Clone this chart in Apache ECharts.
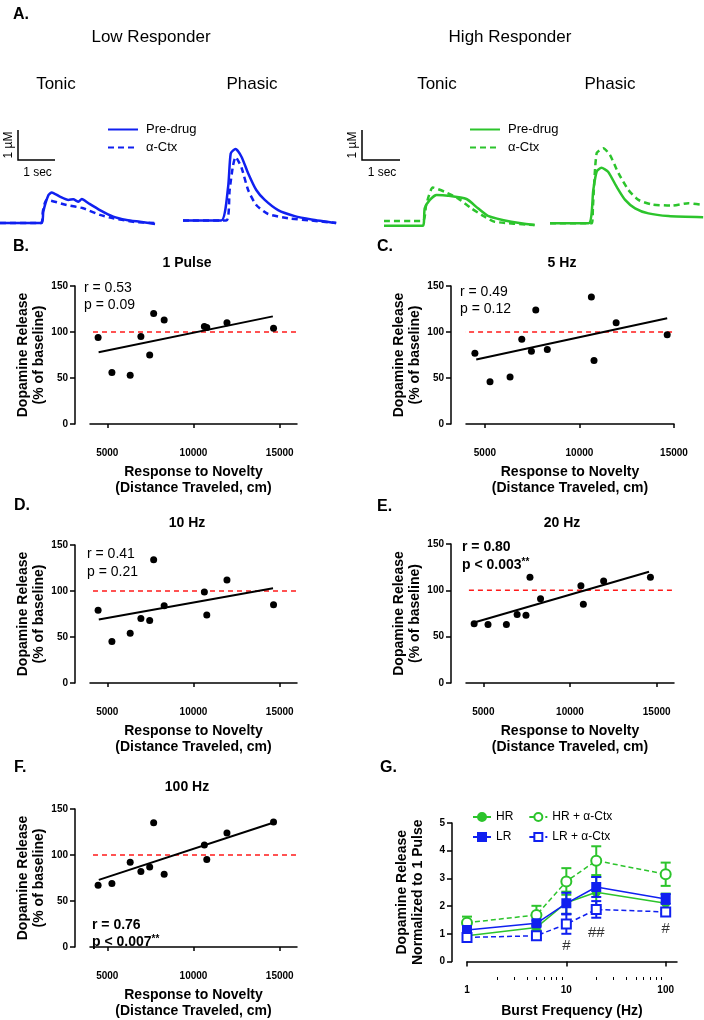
<!DOCTYPE html>
<html>
<head>
<meta charset="utf-8">
<script src="https://cdn.jsdelivr.net/npm/echarts@6/dist/echarts.min.js"></script>
<style>
  html, body { margin: 0; background: #fff; }
  #chart { width: 704px; height: 1020px; }
</style>
</head>
<body>
<div id="chart"></div>
<script>
const FONT = 'Liberation Sans, Arial, sans-serif'
const BLUE = '#1020f0'
const GREEN = '#2cc42c'
const RED = '#ff1a1a'

// A. example traces (time in s, dopamine in µM above baseline)
const lrTonicPre = [[0, 0], [1.13, 0], [1.17, 0.38], [1.31, 0.93], [1.40, 1.02], [1.62, 0.88], [1.85, 0.77], [1.98, 0.79], [2.12, 0.71], [2.21, 0.80], [2.39, 0.66], [2.70, 0.43], [3.06, 0.21], [3.42, 0.10], [3.78, 0.04], [4.19, -0.03]]
const lrTonicCtx = [[0, 0], [1.11, 0], [1.16, 0.40], [1.26, 0.77], [1.80, 0.60], [2.25, 0.49], [2.70, 0.27], [3.06, 0.16], [3.60, 0.04], [4.19, 0]]
const lrPhasicPre = [[0, 0.08], [1.03, 0.08], [1.22, 1.21], [1.29, 2.32], [1.42, 2.47], [1.58, 2.21], [1.76, 1.66], [1.98, 1.10], [2.21, 0.77], [2.57, 0.43], [3.02, 0.23], [3.47, 0.12], [4.14, 0]]
const lrPhasicCtx = [[0, 0.08], [1.17, 0.08], [1.26, 1.10], [1.35, 1.90], [1.42, 2.20], [1.58, 1.85], [1.76, 1.10], [1.98, 0.60], [2.30, 0.30], [2.84, 0.16], [3.47, 0.08], [4.14, 0]]
const hrTonicPre = [[0, -0.09], [1.05, -0.09], [1.10, 0.49], [1.24, 0.77], [1.42, 0.93], [1.73, 0.91], [2.23, 0.80], [2.54, 0.49], [2.81, 0.24], [3.44, 0.04], [4.07, -0.07]]
const hrTonicCtx = [[0, 0.07], [1.05, 0.07], [1.14, 0.60], [1.32, 1.18], [1.64, 1.04], [2.00, 0.82], [2.36, 0.49], [2.72, 0.21], [2.99, 0.04], [4.07, -0.07]]
const hrPhasicPre = [[0, -0.01], [1.04, -0.01], [1.17, 1.10], [1.26, 1.71], [1.39, 1.84], [1.57, 1.71], [1.80, 1.21], [2.03, 0.77], [2.30, 0.49], [2.66, 0.32], [3.20, 0.23], [4.14, 0.19]]
const hrPhasicCtx = [[0, -0.01], [1.13, -0.01], [1.16, 0.54], [1.26, 2.32], [1.44, 2.49], [1.62, 2.27], [1.85, 1.66], [2.12, 1.10], [2.39, 0.77], [2.75, 0.62], [3.29, 0.58], [3.74, 0.66], [4.14, 0.60]]

// B-F. novelty response (cm) and release (% of baseline) per rat
const distance = [4470, 5270, 6330, 6950, 7460, 7690, 8300, 10630, 10770, 11940, 14640]
const release1Pulse = [94, 56, 53, 95, 75, 120, 113, 106, 105, 110, 104]
const release5Hz = [77, 46, 51, 92, 79, 124, 81, 138, 69, 110, 97]
const release10Hz = [79, 45, 54, 70, 68, 134, 84, 99, 74, 112, 85]
const release20Hz = [64, 63, 63, 74, 73, 114, 91, 105, 85, 110, 114]
const release100Hz = [67, 69, 92, 82, 87, 135, 79, 111, 95, 124, 136]
const fit1Pulse = [[4500, 78], [14600, 117]]
const fit5Hz = [[4540, 70], [14640, 115]]
const fit10Hz = [[4510, 69], [14610, 103]]
const fit20Hz = [[4420, 65], [14560, 120]]
const fit100Hz = [[4510, 73], [14610, 135]]
const xTicks = [5000, 10000, 15000]

// G. burst frequency vs normalized release (mean, sem)
const freqs = [1, 5, 10, 20, 100]
const hrMean = [0.93, 1.23, 2.12, 2.50, 2.10]
const hrSem = [0.08, 0.10, 0.40, 0.55, 0.35]
const lrMean = [1.14, 1.38, 2.10, 2.69, 2.26]
const lrSem = [0.15, 0.10, 0.38, 0.36, 0.18]
const hrCtxMean = [1.40, 1.68, 2.89, 3.64, 3.15]
const hrCtxSem = [0.22, 0.33, 0.48, 0.52, 0.42]
const lrCtxMean = [0.87, 0.93, 1.35, 1.88, 1.79]
const lrCtxSem = [0.08, 0.08, 0.35, 0.30, 0.08]
const sigMarks = [[10, 0.57, '#'], [20, 1.05, '##'], [100, 1.17, '#']]
const freqTicks = [1, 10, 100]
const freqMinorTicks = [2, 3, 4, 5, 6, 7, 8, 9, 20, 30, 40, 50, 60, 70, 80, 90]

const grid = []
const xAxis = []
const yAxis = []
const series = []
const graphic = []

function txt(text, x, y, size, opts = {}) {
  graphic.push({
    type: 'text', x, y, rotation: opts.rotation || 0,
    style: {
      text, fill: '#000',
      font: (opts.bold ? 'bold ' : '') + size + 'px ' + FONT,
      align: opts.align || 'left', textAlign: opts.align || 'left',
      verticalAlign: 'middle', textVerticalAlign: 'middle',
      rich: opts.rich
    }
  })
}

// ---- A. traces ----
const traces = [
  { left: 0, width: 157, color: BLUE, pre: lrTonicPre, ctx: lrTonicCtx, tag: 'LR' },
  { left: 183, width: 154, color: BLUE, pre: lrPhasicPre, ctx: lrPhasicCtx, tag: 'LR' },
  { left: 384, width: 152, color: GREEN, pre: hrTonicPre, ctx: hrTonicCtx, tag: 'HR' },
  { left: 550, width: 154, color: GREEN, pre: hrPhasicPre, ctx: hrPhasicCtx, tag: 'HR' }
]
traces.forEach(t => {
  const gi = grid.length
  grid.push({ left: t.left, top: 130, width: t.width, height: 105 })
  xAxis.push({ gridIndex: gi, type: 'value', min: 0, max: t.width / 37, show: false })
  yAxis.push({ gridIndex: gi, type: 'value', min: -0.4, max: 3.1, show: false })
  const base = { type: 'line', xAxisIndex: gi, yAxisIndex: gi, symbol: 'none', smooth: 0.2, color: t.color }
  series.push({ ...base, name: t.tag + ' Pre-drug', data: t.pre, lineStyle: { width: 2.5, color: t.color } })
  series.push({ ...base, name: t.tag + ' α-Ctx', data: t.ctx, lineStyle: { width: 2.5, color: t.color, type: [6, 4] } })
})

// ---- B-F. scatter panels ----
const panels = [
  { left: 90, top: 286, width: 207, height: 138, xMax: 16000, values: release1Pulse, fit: fit1Pulse, refX: 3130 },
  { left: 466, top: 286, width: 208, height: 138, xMax: 15000, values: release5Hz, fit: fit5Hz, refX: 3210 },
  { left: 90, top: 545, width: 207, height: 138, xMax: 16000, values: release10Hz, fit: fit10Hz, refX: 3130 },
  { left: 466, top: 544, width: 208, height: 139, xMax: 16000, values: release20Hz, fit: fit20Hz, refX: 3130 },
  { left: 90, top: 809, width: 207, height: 139, xMax: 16000, values: release100Hz, fit: fit100Hz, refX: 3130 }
]
const axisLine = { show: true, lineStyle: { color: '#000', width: 1.5 } }
const boldName = { color: '#000', fontWeight: 'bold', fontSize: 14, lineHeight: 16, fontFamily: FONT }
const tickLabel = { color: '#000', fontWeight: 'bold', fontSize: 10, fontFamily: FONT, formatter: v => String(v) }

panels.forEach(p => {
  const gi = grid.length
  grid.push({ left: p.left, top: p.top, width: p.width, height: p.height })
  xAxis.push({
    gridIndex: gi, type: 'value', min: 4000, max: p.xMax, offset: 16,
    axisLine, splitLine: { show: false },
    axisTick: { show: true, length: 4, customValues: xTicks, lineStyle: { color: '#000', width: 1.5 } },
    axisLabel: { ...tickLabel, margin: 8, customValues: xTicks },
    name: 'Response to Novelty\n(Distance Traveled, cm)', nameLocation: 'middle', nameGap: 24,
    nameTextStyle: boldName
  })
  yAxis.push({
    gridIndex: gi, type: 'value', min: 0, max: 150, interval: 50, offset: 15,
    axisLine, splitLine: { show: false },
    axisTick: { show: true, length: 5, lineStyle: { color: '#000', width: 1.5 } },
    axisLabel: { ...tickLabel, margin: 7 },
    name: 'Dopamine Release\n(% of baseline)', nameLocation: 'middle', nameGap: 26, nameRotate: 90,
    nameTextStyle: boldName
  })
  series.push({
    type: 'line', xAxisIndex: gi, yAxisIndex: gi, symbol: 'none', clip: false, z: 1,
    data: [[p.refX, 100], [p.xMax, 100]],
    lineStyle: { color: RED, width: 1.5, type: [5, 4] }
  })
  series.push({
    type: 'line', xAxisIndex: gi, yAxisIndex: gi, symbol: 'none', z: 2,
    data: p.fit, lineStyle: { color: '#000', width: 2 }
  })
  series.push({
    type: 'scatter', xAxisIndex: gi, yAxisIndex: gi, symbolSize: 7, z: 3,
    itemStyle: { color: '#000', opacity: 1 },
    data: distance.map((d, i) => [d, p.values[i]])
  })
})

// ---- G. frequency panel ----
const gG = grid.length
grid.push({ left: 467, top: 823, width: 210, height: 140 })
const gX = xAxis.length
xAxis.push({
  gridIndex: gG, type: 'log', logBase: 10, min: 1, max: 130, offset: 15.5, position: 'bottom',
  axisLine, splitLine: { show: false }, minorTick: { show: false },
  axisTick: { show: true, length: 5, customValues: freqTicks, lineStyle: { color: '#000', width: 1.5 } },
  axisLabel: { ...tickLabel, margin: 8, customValues: freqTicks },
  name: 'Burst Frequency (Hz)', nameLocation: 'middle', nameGap: 26, nameTextStyle: boldName
})
xAxis.push({
  gridIndex: gG, type: 'log', logBase: 10, min: 1, max: 130, offset: 15.5, position: 'bottom',
  axisLine: { show: false }, axisLabel: { show: false }, splitLine: { show: false },
  axisTick: { show: true, length: 3, customValues: freqMinorTicks, lineStyle: { color: '#000', width: 1 } }
})
const gY = yAxis.length
yAxis.push({
  gridIndex: gG, type: 'value', min: 0, max: 5, interval: 1, offset: 15,
  axisLine, splitLine: { show: false },
  axisTick: { show: true, length: 5, lineStyle: { color: '#000', width: 1.5 } },
  axisLabel: { ...tickLabel, margin: 7 },
  name: 'Dopamine Release\nNormalized to 1 Pulse', nameLocation: 'middle', nameGap: 26, nameRotate: 90,
  nameTextStyle: boldName
})

function errorBar(params, api) {
  const top = api.coord([api.value(0), api.value(2)])
  const bot = api.coord([api.value(0), api.value(1)])
  const style = { stroke: api.visual('color'), lineWidth: 2 }
  const w = 5
  return {
    type: 'group', children: [
      { type: 'line', shape: { x1: top[0], y1: top[1], x2: bot[0], y2: bot[1] }, style },
      { type: 'line', shape: { x1: top[0] - w, y1: top[1], x2: top[0] + w, y2: top[1] }, style },
      { type: 'line', shape: { x1: bot[0] - w, y1: bot[1], x2: bot[0] + w, y2: bot[1] }, style }
    ]
  }
}

const groups = [
  { name: 'HR', mean: hrMean, sem: hrSem, color: GREEN, symbol: 'circle', size: 7, dashed: false },
  { name: 'HR + α-Ctx', mean: hrCtxMean, sem: hrCtxSem, color: GREEN, symbol: 'emptyCircle', size: 10, dashed: true },
  { name: 'LR', mean: lrMean, sem: lrSem, color: BLUE, symbol: 'rect', size: 8, dashed: false },
  { name: 'LR + α-Ctx', mean: lrCtxMean, sem: lrCtxSem, color: BLUE, symbol: 'emptyRect', size: 9, dashed: true }
]
groups.forEach((g, k) => {
  series.push({
    type: 'custom', xAxisIndex: gX, yAxisIndex: gY, renderItem: errorBar, z: 4 + k,
    itemStyle: { color: g.color }, encode: { x: 0, y: [1, 2] },
    data: freqs.map((f, i) => [f, g.mean[i] - g.sem[i], g.mean[i] + g.sem[i]])
  })
  series.push({
    type: 'line', name: g.name, xAxisIndex: gX, yAxisIndex: gY, z: 5 + k,
    symbol: g.symbol, symbolSize: g.size, color: g.color,
    itemStyle: { color: g.color, borderColor: g.color, borderWidth: 2 },
    lineStyle: { color: g.color, width: 1.5, type: g.dashed ? [5, 3] : 'solid' },
    data: freqs.map((f, i) => [f, g.mean[i]])
  })
})
series.push({
  type: 'scatter', xAxisIndex: gX, yAxisIndex: gY, symbolSize: 0, z: 10,
  label: { show: true, position: 'inside', color: '#000', fontSize: 15, fontFamily: FONT, formatter: p => p.data[2] },
  data: sigMarks
})

// ---- text, scale bars ----
txt('A.', 13, 15, 16, { bold: true })
txt('B.', 13, 247, 16, { bold: true })
txt('C.', 377, 247, 16, { bold: true })
txt('D.', 14, 506, 16, { bold: true })
txt('E.', 377, 507, 16, { bold: true })
txt('F.', 14, 768, 16, { bold: true })
txt('G.', 380, 768, 16, { bold: true })

txt('Low Responder', 151, 37, 17, { align: 'center' })
txt('High Responder', 510, 37, 17, { align: 'center' })
txt('Tonic', 56, 84, 17, { align: 'center' })
txt('Phasic', 252, 84, 17, { align: 'center' })
txt('Tonic', 437, 84, 17, { align: 'center' })
txt('Phasic', 610, 84, 17, { align: 'center' })

txt('1 Pulse', 187, 263, 14, { bold: true, align: 'center' })
txt('5 Hz', 562, 263, 14, { bold: true, align: 'center' })
txt('10 Hz', 187, 523, 14, { bold: true, align: 'center' })
txt('20 Hz', 562, 523, 14, { bold: true, align: 'center' })
txt('100 Hz', 187, 787, 14, { bold: true, align: 'center' })

txt('r = 0.53', 84, 288, 14)
txt('p = 0.09', 84, 305, 14)
txt('r = 0.49', 460, 292, 14)
txt('p = 0.12', 460, 309, 14)
txt('r = 0.41', 87, 554, 14)
txt('p = 0.21', 87, 572, 14)
const starRich = { a: { font: 'bold 14px ' + FONT }, s: { font: 'bold 10px ' + FONT, padding: [0, 0, 6, 0] } }
txt('r = 0.80', 462, 547, 14, { bold: true })
txt('{a|p < 0.003}{s|**}', 462, 565, 14, { bold: true, rich: starRich })
txt('r = 0.76', 92, 925, 14, { bold: true })
txt('{a|p < 0.007}{s|**}', 92, 942, 14, { bold: true, rich: starRich })

const bars = [[18, 55], [362, 400]]
bars.forEach(([x0, x1]) => {
  graphic.push({
    type: 'polyline', shape: { points: [[x0, 130], [x0, 160], [x1, 160]] },
    style: { stroke: '#000', lineWidth: 1.5, fill: null }
  })
  txt('1 sec', (x0 + x1) / 2 + 1, 173, 12, { align: 'center' })
  txt('1 µM', x0 - 9, 145, 12, { align: 'center', rotation: Math.PI / 2 })
})

const traceLegend = (left, tag) => ({
  left, top: 123, padding: 0, orient: 'vertical', itemWidth: 30, itemHeight: 14, itemGap: 5,
  data: [tag + ' Pre-drug', tag + ' α-Ctx'], selectedMode: false,
  itemStyle: { color: 'rgba(0,0,0,0)', borderWidth: 0 },
  formatter: n => n.slice(3),
  textStyle: { fontSize: 13, color: '#000', fontFamily: FONT, padding: [0, 0, 0, 3] }
})
const groupLegend = (top, names, gap) => ({
  left: 472, top, padding: 0, orient: 'horizontal', itemWidth: 18, itemHeight: 10, itemGap: gap,
  data: names, selectedMode: false,
  textStyle: { fontSize: 12, color: '#000', fontFamily: FONT }
})

const chart = echarts.init(document.getElementById('chart'), null, { renderer: 'canvas' })
chart.setOption({
  animation: false,
  backgroundColor: '#fff',
  textStyle: { fontFamily: FONT },
  legend: [
    traceLegend(107, 'LR'),
    traceLegend(469, 'HR'),
    groupLegend(811, ['HR', 'HR + α-Ctx'], 15),
    groupLegend(831, ['LR', 'LR + α-Ctx'], 17)
  ],
  grid, xAxis, yAxis, series, graphic
})
</script>
</body>
</html>
